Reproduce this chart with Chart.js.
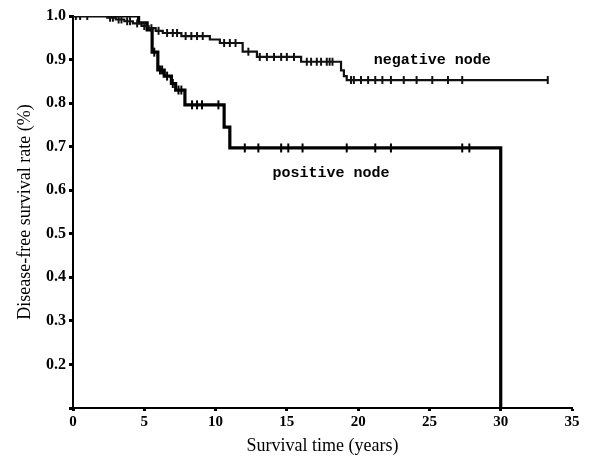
<!DOCTYPE html>
<html>
<head>
<meta charset="utf-8">
<script src="https://cdn.jsdelivr.net/npm/chart.js@4/dist/chart.umd.min.js"></script>
<style>
html,body{margin:0;padding:0;background:#fff;}
#c{display:block;}
</style>
</head>
<body>
<canvas id="c" width="589" height="457"></canvas>
<script>
// ---- data ----
const negTimes    = [0, 2.4, 3.0, 3.6, 4.2, 4.8, 5.3, 5.8, 6.3, 7.6, 9.6, 10.3, 11.9, 12.9, 16.0, 18.8, 19.0, 19.2, 33.3];
const negSurvival = [1.0, 0.996, 0.992, 0.988, 0.983, 0.977, 0.972, 0.966, 0.961, 0.954, 0.946, 0.938, 0.918, 0.906, 0.895, 0.875, 0.862, 0.853, 0.853];

const posTimes    = [0, 4.6, 5.2, 5.55, 5.95, 6.4, 6.9, 7.2, 7.85, 10.6, 11.0, 30.0];
const posSurvival = [1.0, 0.984, 0.968, 0.917, 0.876, 0.862, 0.845, 0.83, 0.796, 0.745, 0.697, 0.0];

const negCensorTimes  = [0.2, 0.5, 1.0, 2.6, 2.8, 3.2, 3.4, 3.8, 4.0, 4.5, 5.0, 5.5, 6.0, 6.6, 7.0, 7.3, 7.9, 8.3, 8.7, 9.1, 10.6, 11.0, 11.4, 12.3, 13.1, 13.6, 14.1, 14.6, 15.0, 15.5, 16.4, 16.7, 17.1, 17.4, 17.8, 18.0, 18.2, 19.5, 19.7, 20.2, 20.7, 21.2, 21.7, 22.3, 23.2, 24.1, 25.2, 26.3, 27.3, 33.3];
const negCensorLevels = [1.0, 1.0, 1.0, 0.996, 0.996, 0.992, 0.992, 0.988, 0.988, 0.983, 0.977, 0.972, 0.966, 0.961, 0.961, 0.961, 0.954, 0.954, 0.954, 0.954, 0.938, 0.938, 0.938, 0.918, 0.906, 0.906, 0.906, 0.906, 0.906, 0.906, 0.895, 0.895, 0.895, 0.895, 0.895, 0.895, 0.895, 0.853, 0.853, 0.853, 0.853, 0.853, 0.853, 0.853, 0.853, 0.853, 0.853, 0.853, 0.853, 0.853];

const posCensorTimes  = [5.7, 6.1, 6.25, 6.6, 7.0, 7.4, 7.6, 8.35, 8.7, 9.05, 10.2, 12.05, 13.0, 14.6, 15.1, 16.1, 19.2, 21.2, 22.3, 27.3, 27.8];
const posCensorLevels = [0.917, 0.876, 0.876, 0.862, 0.845, 0.83, 0.83, 0.796, 0.796, 0.796, 0.796, 0.697, 0.697, 0.697, 0.697, 0.697, 0.697, 0.697, 0.697, 0.697, 0.697];

const xTickValues = [0, 5, 10, 15, 20, 25, 30, 35];
const xTickLabels = ['0', '5', '10', '15', '20', '25', '30', '35'];
const yTickValues = [0.1, 0.2, 0.3, 0.4, 0.5, 0.6, 0.7, 0.8, 0.9, 1.0];
const yTickLabels = ['', '0.2', '0.3', '0.4', '0.5', '0.6', '0.7', '0.8', '0.9', '1.0'];

const curveLabels = [
  {text: 'negative node', x: 21.1, y: 0.899},
  {text: 'positive node', x: 14.0, y: 0.640}
];
const xTitle = 'Survival time (years)';
const yTitle = 'Disease-free survival rate (%)';

// ---- build ----
const pts = (xs, ys) => xs.map((x, i) => ({x: x, y: ys[i]}));

const labelPlugin = {
  id: 'curveLabels',
  afterDatasetsDraw(chart) {
    const ctx = chart.ctx;
    const xs = chart.scales.x, ys = chart.scales.y;
    ctx.save();
    ctx.fillStyle = '#000';
    ctx.font = 'bold 15px "Liberation Mono", monospace';
    ctx.textAlign = 'left';
    ctx.textBaseline = 'middle';
    curveLabels.forEach(l => ctx.fillText(l.text, xs.getPixelForValue(l.x), ys.getPixelForValue(l.y)));
    ctx.restore();
  }
};

const serif = '"Liberation Serif", "Times New Roman", serif';

new Chart(document.getElementById('c'), {
  type: 'scatter',
  data: {
    datasets: [
      {
        label: 'negative node',
        data: pts(negTimes, negSurvival),
        showLine: true, stepped: 'before',
        borderColor: '#111', borderWidth: 2.2,
        pointRadius: 0, fill: false
      },
      {
        label: 'negative censored',
        data: pts(negCensorTimes, negCensorLevels),
        showLine: false,
        pointStyle: 'line', rotation: 90, pointRadius: 4,
        borderColor: '#111', pointBorderWidth: 2, backgroundColor: '#111'
      },
      {
        label: 'positive node',
        data: pts(posTimes, posSurvival),
        showLine: true, stepped: 'before',
        borderColor: '#000', borderWidth: 3.2,
        pointRadius: 0, fill: false
      },
      {
        label: 'positive censored',
        data: pts(posCensorTimes, posCensorLevels),
        showLine: false,
        pointStyle: 'line', rotation: 90, pointRadius: 4.5,
        borderColor: '#000', pointBorderWidth: 2, backgroundColor: '#000'
      }
    ]
  },
  options: {
    responsive: false,
    animation: false,
    devicePixelRatio: 1,
    layout: {padding: {top: 16, right: 17, left: 0, bottom: 0}},
    plugins: {legend: {display: false}, tooltip: {enabled: false}},
    scales: {
      x: {
        type: 'linear', min: 0, max: 35,
        afterBuildTicks: s => { s.ticks = xTickValues.map(v => ({value: v})); },
        afterFit: s => { s.height = 49; },
        ticks: {
          callback: (v, i) => xTickLabels[i],
          color: '#000', padding: 2,
          font: {family: serif, size: 15, weight: 'bold'},
          maxRotation: 0, autoSkip: false
        },
        grid: {drawOnChartArea: false, drawTicks: true, tickLength: 3, tickWidth: 3, tickColor: '#000'},
        border: {display: true, color: '#000', width: 2},
        title: {display: true, text: xTitle, color: '#000', font: {family: serif, size: 18}, padding: {top: 0, bottom: 0}}
      },
      y: {
        type: 'linear', min: 0.1, max: 1.0,
        afterBuildTicks: s => { s.ticks = yTickValues.map(v => ({value: v})); },
        afterFit: s => { s.width = 73; },
        ticks: {
          callback: (v, i) => yTickLabels[i],
          color: '#000', padding: 3,
          font: {family: serif, size: 16, weight: 'bold'},
          autoSkip: false
        },
        grid: {drawOnChartArea: false, drawTicks: true, tickLength: 4, tickWidth: 3, tickColor: '#000'},
        border: {display: true, color: '#000', width: 2},
        title: {display: true, text: yTitle, color: '#000', font: {family: serif, size: 18}, padding: {top: 14, bottom: 0}}
      }
    }
  },
  plugins: [labelPlugin]
});
</script>
</body>
</html>
